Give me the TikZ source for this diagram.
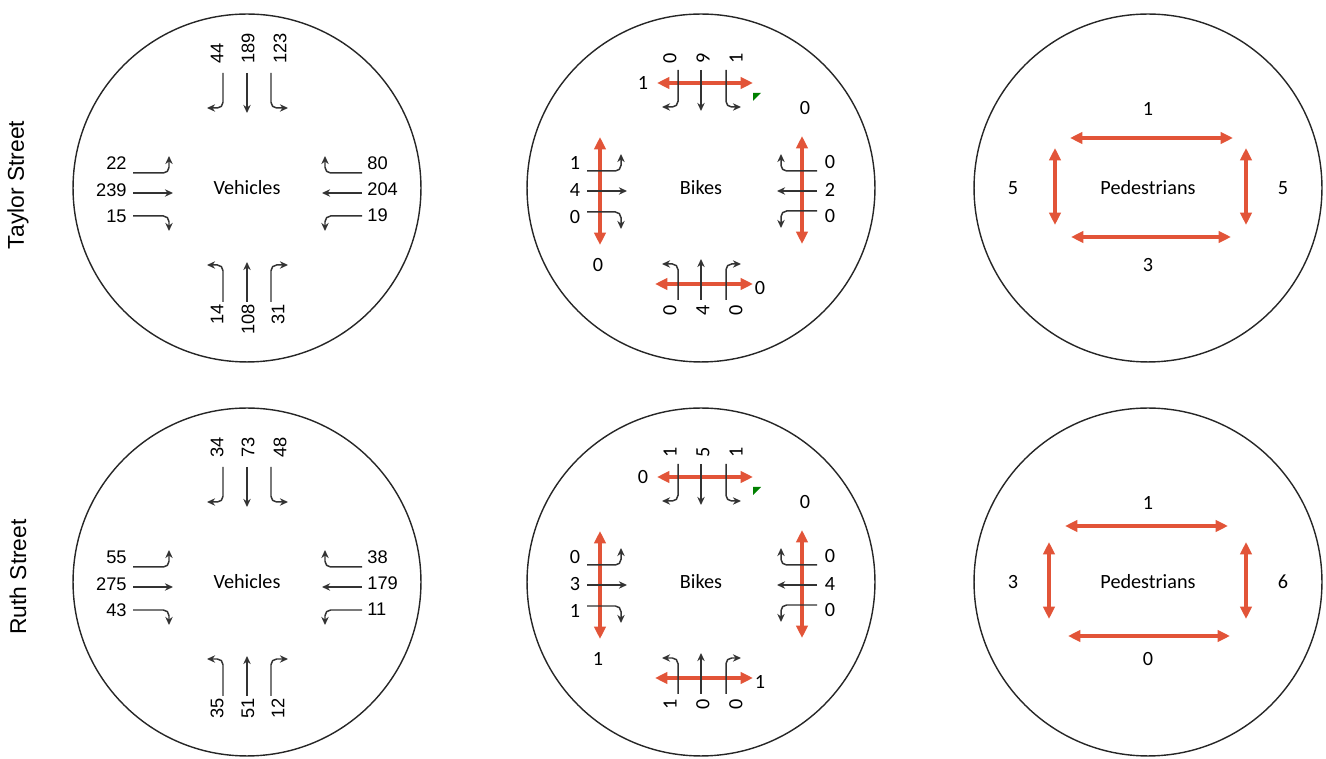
\documentclass[tikz,border=0pt]{standalone}
\usepackage{fontspec}
\setmainfont{Carlito}
\newfontfamily\arialfont{Liberation Sans}
\usetikzlibrary{arrows.meta}
\definecolor{crossred}{RGB}{226,84,56}
\definecolor{flowgray}{RGB}{51,51,51}
\definecolor{ringgray}{RGB}{38,38,38}
\definecolor{errgreen}{RGB}{0,128,0}

\begin{document}
\begin{tikzpicture}[x=0.02cm,y=-0.02cm,
    ring/.style={draw=ringgray,line width=0.8pt},
    flow/.style={draw=flowgray,line width=0.85pt,rounded corners=3.2pt,-{Stealth[length=4.6pt,width=4.2pt]}},
    cross/.style={draw=crossred,line width=1.8pt,{Triangle[length=7pt,width=6.4pt]}-{Triangle[length=7pt,width=6.4pt]}},
    vnum/.style={font=\arialfont\fontsize{10.4}{12}\selectfont,inner sep=0pt},
    bnum/.style={font=\fontsize{11.5}{13}\selectfont,inner sep=0pt},
    title/.style={font=\fontsize{11.5}{13}\selectfont},
    street/.style={font=\arialfont\fontsize{13}{15}\selectfont,rotate=90}]
  \useasboundingbox (0,0) rectangle (1326,759);
  \node[street] (taylor) at (18,185) {Taylor Street};
  \node[street] (ruth) at (18,577) {Ruth Street};

  % vehicles
  \foreach \cy/\r/\Ta/\Tb/\Tc/\La/\Lb/\Lc/\Ra/\Rb/\Rc/\Ba/\Bb/\Bc in
      {188/1/44/189/123/22/239/15/80/204/19/14/108/31,
       582/2/34/73/48/55/275/43/38/179/11/35/51/12}{
    \begin{scope}[shift={(247,\cy)}]
      \draw[ring] (0,0) circle (3.48cm);
      \node[title] (veh\r) at (0,0) {Vehicles};
      % from the north
      \draw[flow] (-24,-115) -- (-24,-80) -- (-40,-80);
      \draw[flow] (0,-115) -- (0,-75);
      \draw[flow] (24,-115) -- (24,-80) -- (41,-80);
      \node[vnum,rotate=90,anchor=west] (vTa\r) at (-30,-124) {\Ta};
      \node[vnum,rotate=90,anchor=west] (vTb\r) at (1,-124) {\Tb};
      \node[vnum,rotate=90,anchor=west] (vTc\r) at (33,-124) {\Tc};
      % from the west
      \draw[flow] (-114,-15) -- (-78,-15) -- (-78,-32);
      \draw[flow] (-114,5) -- (-74,5);
      \draw[flow] (-114,28) -- (-78,28) -- (-78,43);
      \node[vnum,anchor=east] (vLa\r) at (-120,-25) {\La};
      \node[vnum,anchor=east] (vLb\r) at (-120,2) {\Lb};
      \node[vnum,anchor=east] (vLc\r) at (-120,28) {\Lc};
      % from the east
      \draw[flow] (115,-15) -- (78,-15) -- (78,-32);
      \draw[flow] (115,5) -- (75,5);
      \draw[flow] (115,28) -- (78,28) -- (78,43);
      \node[vnum,anchor=west] (vRa\r) at (120,-25) {\Ra};
      \node[vnum,anchor=west] (vRb\r) at (120,1) {\Rb};
      \node[vnum,anchor=west] (vRc\r) at (120,27) {\Rc};
      % from the south
      \draw[flow] (-24,114) -- (-24,77) -- (-40,77);
      \draw[flow] (0,114) -- (0,74);
      \draw[flow] (24,114) -- (24,77) -- (41,77);
      \node[vnum,rotate=90,anchor=east] (vBa\r) at (-30,116) {\Ba};
      \node[vnum,rotate=90,anchor=east] (vBb\r) at (1,116) {\Bb};
      \node[vnum,rotate=90,anchor=east] (vBc\r) at (31,116) {\Bc};
    \end{scope}
  }

  % bikes
  \foreach \cy/\r/\Ta/\Tb/\Tc/\Tx/\Tk/\La/\Lb/\Lc/\Lx/\Ra/\Rb/\Rc/\Ba/\Bb/\Bc/\Bx in
      {188/1/0/9/1/1/0/1/4/0/0/0/2/0/0/4/0/0,
       582/2/1/5/1/0/0/0/3/1/1/0/4/0/1/0/0/1}{
    \begin{scope}[shift={(701,\cy)}]
      \draw[ring] (0,0) circle (3.48cm);
      \node[title] (bike\r) at (0,0) {Bikes};
      \draw[cross] (-44,-105) -- (52,-105);
      \draw[cross] (-101,-51) -- (-101,57);
      \draw[cross] (101,-52) -- (101,56);
      \draw[cross] (-46,96) -- (52,96);
      % north leg
      \draw[flow] (-23,-118) -- (-23,-81) -- (-39,-81);
      \draw[flow] (0,-118) -- (0,-77);
      \draw[flow] (25,-118) -- (25,-81) -- (40,-81);
      \node[bnum,rotate=90,anchor=west] (bTa\r) at (-31,-124) {\Ta};
      \node[bnum,rotate=90,anchor=west] (bTb\r) at (2,-124) {\Tb};
      \node[bnum,rotate=90,anchor=west] (bTc\r) at (35,-124) {\Tc};
      \node[bnum] (bTx\r) at (-58,-105) {\Tx};
      \fill[errgreen] (52,-95) -- (60,-95) -- (52,-87) -- cycle;
      \node[bnum] (bTk\r) at (104,-80) {\Tk};
      % west leg
      \draw[flow] (-114,-17) -- (-80,-17) -- (-80,-34);
      \draw[flow] (-114,3) -- (-74,3);
      \draw[flow] (-114,24) -- (-80,24) -- (-80,41);
      \node[bnum] (bLa\r) at (-126,-25) {\La};
      \node[bnum] (bLb\r) at (-126,2) {\Lb};
      \node[bnum] (bLc\r) at (-126,29) {\Lc};
      \node[bnum] (bLx\r) at (-103,77) {\Lx};
      % east leg
      \draw[flow] (116,-17) -- (80,-17) -- (80,-34);
      \draw[flow] (116,3) -- (76,3);
      \draw[flow] (116,23) -- (80,23) -- (80,40);
      \node[bnum] (bRa\r) at (129,-26) {\Ra};
      \node[bnum] (bRb\r) at (129,2) {\Rb};
      \node[bnum] (bRc\r) at (129,28) {\Rc};
      % south leg
      \draw[flow] (-23,112) -- (-23,76) -- (-39,76);
      \draw[flow] (0,112) -- (0,71);
      \draw[flow] (25,112) -- (25,76) -- (40,76);
      \node[bnum,rotate=90,anchor=east] (bBa\r) at (-31,117) {\Ba};
      \node[bnum,rotate=90,anchor=east] (bBb\r) at (2,117) {\Bb};
      \node[bnum,rotate=90,anchor=east] (bBc\r) at (35,117) {\Bc};
      \node[bnum] (bBx\r) at (59,100) {\Bx};
    \end{scope}
  }

  % pedestrians
  \foreach \cy/\r/\ty/\txa/\txb/\Tn/\by/\bxa/\bxb/\Bn/\lx/\Ln/\rx/\Rn in
      {188/1/-50/-78/85/1/49/-77/83/3/-93/5/98/5,
       582/2/-56/-83/80/1/54/-80/82/0/-99/3/98/6}{
    \begin{scope}[shift={(1148,\cy)}]
      \draw[ring] (0,0) circle (3.48cm);
      \node[title] (ped\r) at (0,0) {Pedestrians};
      \draw[cross] (\txa,\ty) -- (\txb,\ty);
      \draw[cross] (\bxa,\by) -- (\bxb,\by);
      \draw[cross] (\lx,-40) -- (\lx,37);
      \draw[cross] (\rx,-40) -- (\rx,37);
      \node[bnum] (pT\r) at (0,-79) {\Tn};
      \node[bnum] (pB\r) at (0,77) {\Bn};
      \node[bnum] (pL\r) at (-135,0) {\Ln};
      \node[bnum] (pR\r) at (135,0) {\Rn};
    \end{scope}
  }
\end{tikzpicture}
\end{document}
